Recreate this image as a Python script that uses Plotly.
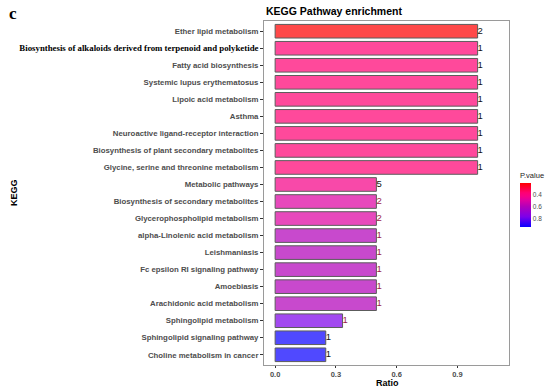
import plotly.graph_objects as go

categories = [
    "Ether lipid metabolism",
    "Biosynthesis of alkaloids derived from terpenoid and polyketide",
    "Fatty acid biosynthesis",
    "Systemic lupus erythematosus",
    "Lipoic acid metabolism",
    "Asthma",
    "Neuroactive ligand-receptor interaction",
    "Biosynthesis of plant secondary metabolites",
    "Glycine, serine and threonine metabolism",
    "Metabolic pathways",
    "Biosynthesis of secondary metabolites",
    "Glycerophospholipid metabolism",
    "alpha-Linolenic acid metabolism",
    "Leishmaniasis",
    "Fc epsilon RI signaling pathway",
    "Amoebiasis",
    "Arachidonic acid metabolism",
    "Sphingolipid metabolism",
    "Sphingolipid signaling pathway",
    "Choline metabolism in cancer",
]
ratio = [1, 1, 1, 1, 1, 1, 1, 1, 1, 0.5, 0.5, 0.5, 0.5, 0.5, 0.5, 0.5, 0.5, 0.333, 0.25, 0.25]
counts = [2, 1, 1, 1, 1, 1, 1, 1, 1, 5, 2, 2, 1, 1, 1, 1, 1, 1, 1, 1]
pvalue = [0.21, 0.37, 0.37, 0.37, 0.37, 0.37, 0.37, 0.37, 0.37, 0.43, 0.50, 0.50,
          0.60, 0.60, 0.60, 0.60, 0.60, 0.77, 0.94, 0.94]
x_ticks = [0.0, 0.3, 0.6, 0.9]
cbar_ticks = [0.4, 0.6, 0.8]
label_colors = ["#111"] * 10 + ["#9b1b4b"] * 8 + ["#111"] * 2

# gradient (low p -> high p): red -> pink -> magenta -> purple -> blue
grad_stops = [0.0, 0.22, 0.30, 0.40, 0.53, 0.77, 1.0]
grad_colors = ["rgb(255,0,0)", "rgb(255,0,115)", "rgb(246,0,135)", "rgb(221,0,163)",
               "rgb(179,0,185)", "rgb(124,0,235)", "rgb(10,0,255)"]
# colour variable is -p so that low p (red) sits at the top of the colour bar
colorscale = sorted([[1 - s, c] for s, c in zip(grad_stops, grad_colors)])
neg_p = [-v for v in pvalue]

fig = go.Figure()
fig.add_trace(go.Bar(
    y=categories, x=ratio, orientation="h", width=0.8,
    marker=dict(color=neg_p, colorscale=colorscale, cmin=-max(pvalue), cmax=-min(pvalue),
                opacity=0.71, line=dict(color="#1a1a1a", width=1),
                colorbar=dict(
                    title=dict(text="P.value", side="top",
                               font=dict(size=7.5, color="#222", family="Liberation Sans")),
                    thickness=11, thicknessmode="pixels", len=58, lenmode="pixels",
                    x=(520 - 264) / 245, xanchor="left", y=(365 - 198) / 344, yanchor="middle",
                    xpad=0, ypad=0,
                    tickvals=[-v for v in cbar_ticks], ticktext=[f"{v:.1f}" for v in cbar_ticks],
                    ticks="", outlinewidth=0,
                    tickfont=dict(size=6.5, color="#4d4d4d", family="Liberation Sans"),
                )),
    showlegend=False, hoverinfo="skip",
))
fig.add_trace(go.Scatter(
    y=categories, x=ratio, mode="text", text=[str(c) for c in counts],
    textposition="middle right",
    textfont=dict(size=9.5, color=label_colors, family="Liberation Sans"),
    showlegend=False, hoverinfo="skip", cliponaxis=False,
))

ticktext = []
for c in categories:
    if c.startswith("Biosynthesis of alkaloids"):
        ticktext.append('<span style="font-family:Liberation Serif;color:#000;font-size:8.8px">' + c + '</span>')
    else:
        ticktext.append(c)

fig.update_layout(
    width=550, height=391,
    margin=dict(l=264, r=41, t=21, b=26, autoexpand=False),
    paper_bgcolor="white", plot_bgcolor="white",
    font=dict(family="Liberation Sans"),
    bargap=0.2,
    xaxis=dict(range=[-0.055, 1.155], tickvals=x_ticks, ticktext=[f"{v:.1f}" for v in x_ticks],
               showgrid=False, zeroline=False, showline=True, mirror=True, automargin=False,
               linecolor="#9a9a9a", linewidth=1,
               ticks="outside", ticklen=2, tickcolor="#333", tickwidth=1,
               tickfont=dict(size=7.5, color="#4d4d4d", weight="bold")),
    yaxis=dict(categoryorder="array", categoryarray=categories[::-1],
               tickvals=categories, ticktext=ticktext,
               range=[-0.6, len(categories) - 0.4], automargin=False,
               showgrid=False, zeroline=False, showline=True, mirror=True,
               linecolor="#9a9a9a", linewidth=1,
               ticks="outside", ticklen=3, tickcolor="#333", tickwidth=1,
               tickfont=dict(size=7.8, color="#4d4d4d", weight="bold")),
    annotations=[
        dict(text="<b>KEGG Pathway enrichment</b>", xref="paper", yref="paper",
             x=0, y=1 + (21 - 11) / 344, xanchor="left", yanchor="middle", showarrow=False,
             font=dict(size=10.5, color="#000")),
        dict(text="<b>Ratio</b>", xref="paper", yref="paper",
             x=(387 - 264) / 245, y=-(383 - 365) / 344, xanchor="center", yanchor="middle",
             showarrow=False, font=dict(size=9, color="#000")),
        dict(text="<b>KEGG</b>", xref="paper", yref="paper",
             x=(14 - 264) / 245, y=(365 - 193) / 344, xanchor="center", yanchor="middle",
             textangle=-90, showarrow=False, font=dict(size=9, color="#000")),
        dict(text="<b>c</b>", xref="paper", yref="paper",
             x=(13 - 264) / 245, y=1 + (21 - 14) / 344, xanchor="center", yanchor="middle",
             showarrow=False, font=dict(size=17, color="#000", family="Liberation Serif")),
    ],
)

fig.write_html("out.html", config={"displayModeBar": False},
               post_script="document.body.style.margin='0px';")
